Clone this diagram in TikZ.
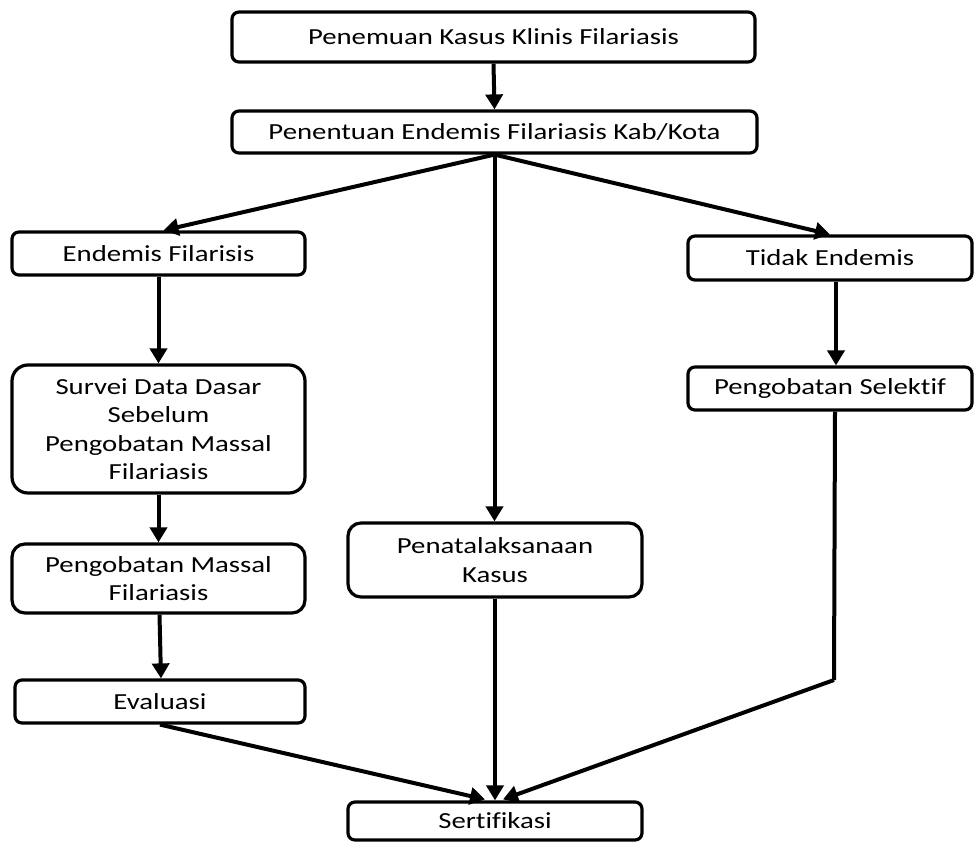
\documentclass[tikz,border=0pt]{standalone}
\usepackage{fontspec}
\setmainfont{Carlito}[FakeStretch=1.25, Ligatures={NoCommon}]
\usetikzlibrary{arrows.meta,calc}
\tikzset{
  box/.style={draw=black, line width=3.2pt, rounded corners=7pt, fill=white,
    align=center, inner sep=0pt, font=\fontsize{23}{28.5}\selectfont},
  bigbox/.style={box, rounded corners=16pt},
  conn/.style={line width=4pt, -{Triangle[length=15pt,width=17pt]}},
  seg/.style={line width=4pt}
}
\begin{document}
\begin{tikzpicture}[x=1pt,y=-1pt]
\useasboundingbox (0,0) rectangle (974,843);
\node[box, minimum width=523pt, minimum height=50pt] (kasus) at (493.5,37) {Penemuan Kasus Klinis Filariasis};
\node[box, minimum width=525pt, minimum height=42pt] (tentu) at (494.5,132) {Penentuan Endemis Filariasis Kab/Kota};
\node[box, minimum width=293pt, minimum height=43pt] (endemis) at (158.5,253.5) {Endemis Filarisis};
\node[box, minimum width=284pt, minimum height=44pt] (tidak) at (830,258) {Tidak Endemis};
\node[bigbox, minimum width=293pt, minimum height=128pt] (survei) at (158.5,429) {Survei Data Dasar\\Sebelum\\Pengobatan Massal\\Filariasis};
\node[box, minimum width=284pt, minimum height=43pt] (selektif) at (830,388.5) {Pengobatan Selektif};
\node[bigbox, rounded corners=13pt, minimum width=293pt, minimum height=69pt] (massal) at (158.5,578.5) {Pengobatan Massal\\Filariasis};
\node[box, minimum width=290pt, minimum height=43pt] (eval) at (160,701.5) {Evaluasi};
\node[bigbox, rounded corners=13pt, minimum width=294pt, minimum height=74pt] (tata) at (495,560) {Penatalaksanaan\\Kasus};
\node[box, minimum width=294pt, minimum height=38pt] (sert) at (495,821) {Sertifikasi};
\coordinate (bend) at (834,680);

\draw[conn] (kasus.south) -- (tentu.north);
\draw[conn] (tentu.south) -- ($(endemis.north)+(5,0)$);
\draw[conn] (tentu.south) -- (tentu.south |- tata.north);
\draw[conn] (tentu.south) -- ($(tidak.north)+(0,0)$);
\draw[conn] (endemis.south) -- (survei.north);
\draw[conn] (survei.south) -- (massal.north);
\draw[conn] ($(massal.south)+(1,0)$) -- ($(eval.north)+(1,0)$);
\draw[conn] ($(tidak.south)+(6,0)$) -- ($(selektif.north)+(6,0)$);
\draw[conn] (tata.south) -- (sert.north);
\draw[conn] (eval.south) -- ($(sert.north)+(-10,-1)$);
\draw[seg, line cap=butt] ($(selektif.south)+(5,0)$) -- (bend);
\draw[conn] (bend) -- ($(sert.north)+(8,-1)$);
\end{tikzpicture}
\end{document}
